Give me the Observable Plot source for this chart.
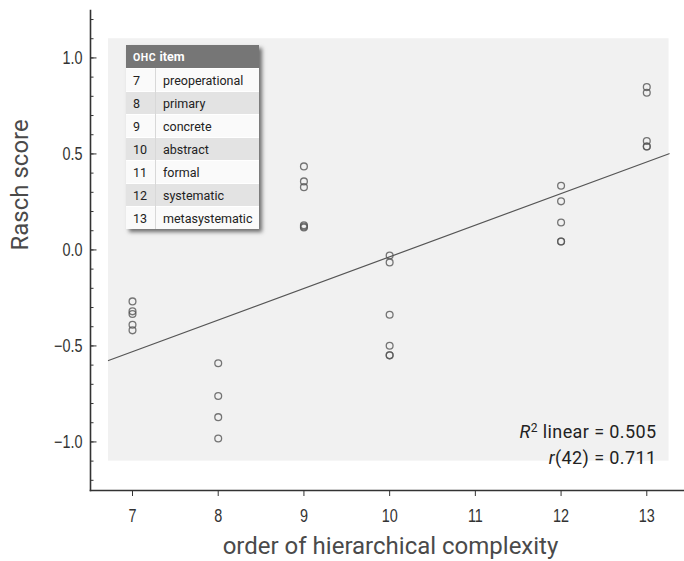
<!DOCTYPE html>
<html><head><meta charset="utf-8">
<script src="https://cdn.jsdelivr.net/npm/d3@7"></script>
<script src="https://cdn.jsdelivr.net/npm/@observablehq/plot@0.6"></script>
<style>
body{margin:0;background:#fff;}
#wrap{position:relative;width:684px;height:561px;}
.narrow text{font-family:'Liberation Sans Narrow','Liberation Sans',sans-serif;}
#legend{position:absolute;left:126px;top:45px;width:133px;border-collapse:collapse;font-family:Roboto,"Noto Sans",sans-serif;font-size:12.5px;color:#222;box-shadow:3px 3px 4px rgba(0,0,0,0.55);}
#legend th{height:23px;padding:0 0 0 7px;background:#767676;color:#fff;font-weight:bold;text-align:left;font-size:12.5px;}
#legend th .sc{font-size:10.5px;letter-spacing:0.6px;}
#legend td{height:22px;padding:0 0 0 7px;border-top:1px solid #fff;}
#legend td.n{width:22px;border-right:1px solid #d8d8d8;}
#legend tr:nth-child(even) td{background:#fafafa;}
#legend tr:nth-child(odd) td{background:#e3e3e3;}
</style>
</head><body>
<div id="wrap"></div>
<script>
// Data
const pointX = [7,7,7,7,7, 8,8,8,8, 9,9,9,9,9,9, 10,10,10,10,10,10, 12,12,12,12,12, 13,13,13,13,13];
const pointY = [-0.268,-0.320,-0.334,-0.390,-0.419,
                -0.590,-0.761,-0.871,-0.982,
                 0.435, 0.357, 0.327, 0.128, 0.117, 0.122,
                -0.029,-0.065,-0.338,-0.499,-0.549,-0.549,
                 0.334, 0.253, 0.143, 0.044, 0.044,
                 0.848, 0.819, 0.567, 0.539, 0.539];
const fitX = [6.72, 13.26];
const fitY = [-0.576, 0.501];
const areaX = [6.72, 13.26];
const areaY = [-1.10, 1.10];
const xTicks = [7,8,9,10,11,12,13];
const yTicks = [-1,-0.5,0,0.5,1];
const yMinorTicks = d3.range(-12, 13).map(d => d / 10);
const legendNums = [7,8,9,10,11,12,13];
const legendNames = ["preoperational","primary","concrete","abstract","formal","systematic","metasystematic"];
const statLines = ["R2 linear = 0.505", "r(42) = 0.711"];
const xLabel = "order of hierarchical complexity";
const yLabel = "Rasch score";

const points = pointX.map((x, i) => ({x, y: pointY[i]}));
const fit = fitX.map((x, i) => ({x, y: fitY[i]}));
const area = [{x1: areaX[0], x2: areaX[1], y1: areaY[0], y2: areaY[1]}];

const sans = "Roboto,'Noto Sans',sans-serif";

const chart = Plot.plot({
  width: 684,
  height: 561,
  marginLeft: 90,
  marginRight: 0,
  marginTop: 10,
  marginBottom: 71,
  style: {background: "transparent", overflow: "visible"},
  x: {domain: [6.51, 13.44]},
  y: {domain: [-1.253, 1.247]},
  marks: [
    Plot.rect(area, {x1: "x1", x2: "x2", y1: "y1", y2: "y2", fill: "#f1f1f1"}),
    Plot.line(fit, {x: "x", y: "y", stroke: "#555", strokeWidth: 1.2}),
    Plot.dot(points, {x: "x", y: "y", r: 3.4, stroke: "#555", strokeOpacity: 0.8, strokeWidth: 1.3, fill: "none"}),
    Plot.frame({anchor: "left", stroke: "#333", strokeWidth: 1.6}),
    Plot.frame({anchor: "bottom", stroke: "#333", strokeWidth: 1.6}),
    Plot.axisY(yMinorTicks, {tickSize: 3.5, dx: 3.5, text: null, stroke: "#333", label: null}),
    Plot.axisY(yTicks, {tickSize: 6.5, dx: 6.5, text: null, stroke: "#333", label: null}),
    Plot.axisY(yTicks, {tickSize: 0, tickPadding: 8, tickFormat: d3.format(".1f"), fontSize: 18, className: "narrow", fill: "#333", label: null}),
    Plot.axisX(xTicks, {tickSize: 6, text: null, stroke: "#333", label: null}),
    Plot.axisX(xTicks, {tickSize: 0, tickPadding: 19, fontSize: 18, className: "narrow", fill: "#333", label: null}),
    Plot.text([xLabel], {frameAnchor: "bottom", dx: 3, dy: 63, fontSize: 24, fontFamily: sans, fill: "#4a4a4a"}),
    Plot.text([yLabel], {frameAnchor: "left", rotate: -90, dx: -70, fontSize: 24, fontFamily: sans, fill: "#4a4a4a"}),
    Plot.text([statLines[0]], {frameAnchor: "bottom-right", dx: -28, dy: -53, lineAnchor: "bottom", textAnchor: "end", fontSize: 18, fontFamily: sans, fill: "#222"}),
    Plot.text([statLines[1]], {frameAnchor: "bottom-right", dx: -28, dy: -27, lineAnchor: "bottom", textAnchor: "end", fontSize: 18, fontFamily: sans, fill: "#222"})
  ]
});

// Italic R with superscript 2, italic r
d3.select(chart).selectAll("text").each(function() {
  const t = this.textContent;
  if (t === statLines[0]) {
    this.innerHTML = '<tspan font-style="italic">R</tspan><tspan dy="-6" font-size="12">2</tspan><tspan dy="6"> linear = 0.505</tspan>';
    this.setAttribute("letter-spacing", "0.4");
  } else if (t === statLines[1]) {
    this.innerHTML = '<tspan font-style="italic">r</tspan>(42) = 0.711';
    this.setAttribute("letter-spacing", "0.4");
  }
});

const wrap = document.getElementById("wrap");
wrap.appendChild(chart);

// Condense the tick labels horizontally (narrow face as in the reference)
d3.select(chart).selectAll(".narrow text").each(function() {
  const w = this.getComputedTextLength();
  if (w > 0) {
    this.setAttribute("textLength", (w * 0.8).toFixed(2));
    this.setAttribute("lengthAdjust", "spacingAndGlyphs");
  }
});

// Legend table inside the plot area
const table = document.createElement("table");
table.id = "legend";
let html = '<tr><th colspan="2"><span class="sc">OHC</span> item</th></tr>';
legendNums.forEach((n, i) => {
  html += `<tr><td class="n">${n}</td><td>${legendNames[i]}</td></tr>`;
});
table.innerHTML = html;
wrap.appendChild(table);
</script>
</body></html>
